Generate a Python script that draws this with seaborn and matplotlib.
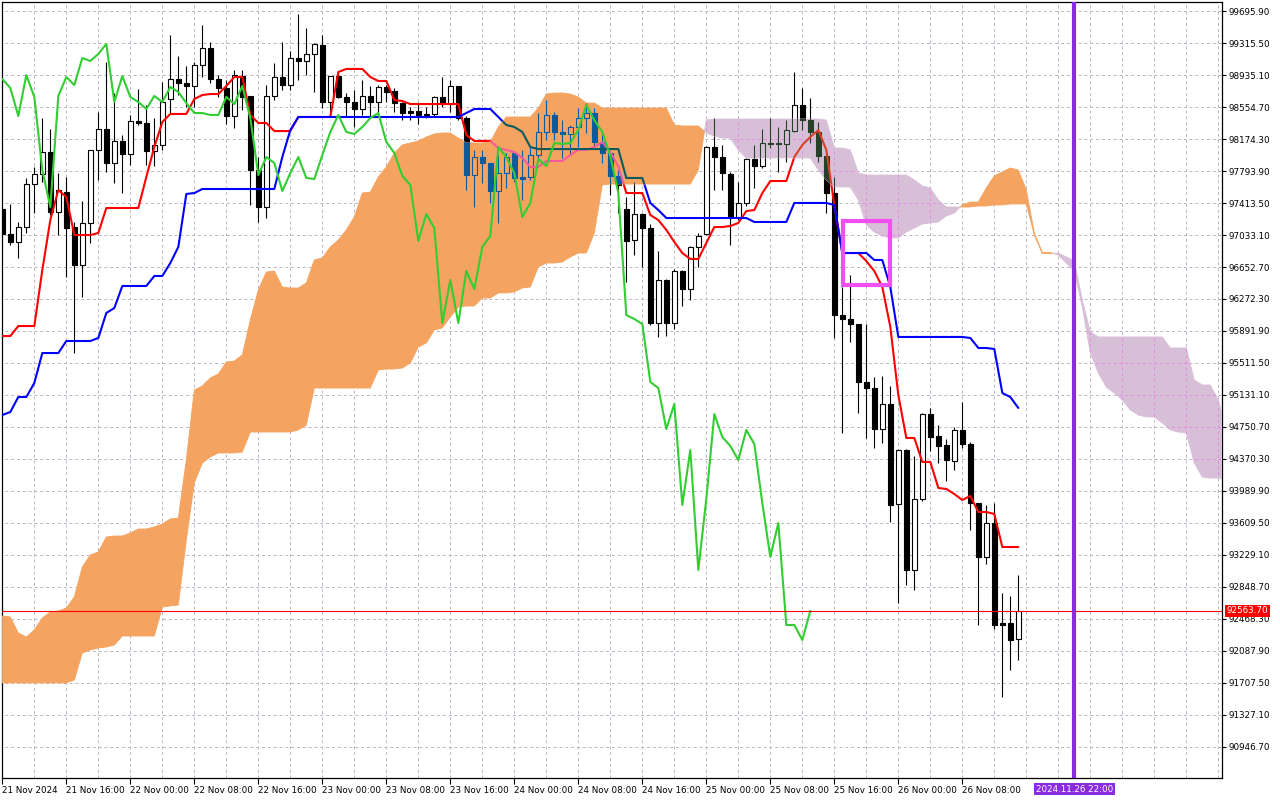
import numpy as np
import seaborn as sns
import matplotlib
matplotlib.use("Agg")
import matplotlib.pyplot as plt
import matplotlib.transforms as mtransforms
from matplotlib.path import Path
from matplotlib.patches import PathPatch, Rectangle

# H1 bars, the first one is 21 Nov 2024 08:00
opens = [97342, 97045, 96950, 97128, 97639, 97758, 98020, 97307, 97544, 97128,
         96676, 97176, 98044, 98293, 97889, 98151, 97996, 98388, 98365, 98032,
         98103, 98650, 98888, 98840, 98804, 99054, 99256, 98888, 98781, 98448,
         98923, 98686, 97806, 97366, 98686, 98911, 98816, 99137, 99102, 99185,
         99292, 98614, 98923, 98674, 98614, 98531, 98686, 98614, 98793, 98745,
         98602, 98507, 98507, 98472, 98472, 98674, 98590, 98804, 98424, 97746,
         97960, 97889, 97556, 97770, 98008, 97723, 97723, 97984, 98258, 98460,
         98258, 98234, 98317, 98424, 98483, 98139, 98008, 97735, 97342, 96974,
         97283, 97116, 95987, 96498, 95987, 96605, 96391, 96891, 97045, 98079,
         97960, 97758, 97247, 97414, 97937, 97853, 98127, 98115, 98115, 98269,
         98578, 98400, 98258, 97972, 97532, 96082, 96035, 95975, 95286, 95214,
         94727, 95024, 93835, 94477, 93051, 93895, 94905, 94644, 94537, 94347,
         94715, 94549, 93847, 93205, 93610, 92421, 92421, 92231]
highs = [97366, 97402, 97188, 97711, 97842, 98424, 98293, 97770, 97723, 97188,
         97437, 98044, 98495, 99090, 98721, 98222, 98460, 98769, 98578, 98424,
         98852, 99411, 99161, 99042, 99090, 99530, 99327, 98935, 98876, 98995,
         98995, 98686, 97960, 98816, 99078, 99327, 99220, 99660, 99494, 99316,
         99411, 98923, 98947, 98721, 98757, 98876, 98804, 98816, 98816, 98781,
         98614, 98555, 98614, 98555, 98686, 98911, 98876, 98804, 98448, 98044,
         98044, 97889, 97984, 98008, 98020, 98044, 98079, 98483, 98638, 98495,
         98400, 98341, 98543, 98602, 98543, 98246, 98020, 97806, 97485, 97663,
         97295, 97164, 96843, 96510, 96629, 96617, 96902, 97057, 98091, 98424,
         98103, 97782, 97663, 97949, 98103, 98293, 98424, 98317, 98400, 98971,
         98781, 98662, 98376, 98044, 97723, 96415, 96558, 95975, 95975, 95345,
         95357, 95238, 94489, 94489, 94406, 94917, 94977, 94775, 94608, 94751,
         95048, 94572, 93847, 93824, 93847, 92777, 92742, 92991]
lows = [97021, 96914, 96760, 97057, 97295, 97663, 97271, 97033, 96534, 95630,
        96296, 96938, 97687, 97782, 97651, 97532, 97865, 98341, 97865, 97853,
        98044, 98483, 98697, 98555, 98555, 98911, 98840, 98674, 98353, 98305,
        98519, 97390, 97188, 97235, 98638, 98757, 98757, 98876, 98935, 98733,
        98543, 98436, 98662, 98436, 98317, 98460, 98424, 98436, 98614, 98495,
        98400, 98400, 98353, 98424, 98436, 98555, 98495, 98400, 97568, 97366,
        97651, 97414, 97176, 97592, 97663, 97449, 97687, 97925, 98162, 98162,
        97949, 97984, 98079, 98246, 98067, 97889, 97509, 97295, 96474, 96795,
        96653, 95963, 95821, 95833, 95916, 96189, 96260, 96653, 97033, 97568,
        97568, 96914, 97211, 97378, 97592, 97830, 98067, 97782, 97901, 98258,
        98281, 98127, 97901, 97295, 95809, 94679, 95761, 94917, 94620, 94501,
        94561, 93621, 92659, 92873, 92813, 93871, 94465, 94323, 94109, 94240,
        94501, 93526, 92397, 93122, 92349, 91541, 91862, 91981]
closes = [97045, 96950, 97128, 97639, 97758, 98020, 97307, 97568, 97116, 96676,
          97176, 98044, 98293, 97889, 98151, 97996, 98388, 98365, 98032, 98103,
          98614, 98888, 98840, 98804, 99054, 99256, 98888, 98781, 98448, 98935,
          98674, 97806, 97366, 98686, 98911, 98816, 99137, 99102, 99185, 99304,
          98614, 98923, 98674, 98614, 98531, 98686, 98614, 98793, 98733, 98602,
          98483, 98483, 98460, 98460, 98674, 98590, 98804, 98424, 97746, 97960,
          97889, 97556, 97770, 97960, 97711, 97699, 97984, 98258, 98460, 98258,
          98234, 98317, 98424, 98483, 98139, 98008, 97735, 97628, 96962, 97283,
          97116, 95987, 96498, 95987, 96605, 96391, 96891, 97021, 98079, 97960,
          97770, 97247, 97414, 97937, 97853, 98127, 98115, 98127, 98281, 98578,
          98400, 98258, 97972, 97532, 96082, 96035, 95975, 95286, 95214, 94727,
          95024, 93824, 94477, 93051, 93895, 94905, 94632, 94525, 94358, 94715,
          94549, 93847, 93205, 93610, 92397, 92397, 92219, 92563.7]

tenkan = [95832, 95832, 95951, 95951, 95951, 96617, 97211, 97568, 97485, 97033,
          97033, 97033, 97057, 97354, 97354, 97354, 97354, 97354, 97723, 98079,
          98376, 98472, 98472, 98472, 98650, 98697, 98709, 98709, 98804, 98911,
          98911, 98460, 98365, 98365, 98269, 98269, 98269, 98436, 98436, 98436,
          98436, 98436, 98971, 99007, 99007, 99007, 98911, 98864, 98864, 98638,
          98626, 98590, 98590, 98590, 98590, 98590, 98590, 98590, 98222, 98151,
          98151, 98151, 98067, 98044, 98020, 97949, 97842, 97842, 97913, 97913,
          97913, 97984, 98044, 98044, 98079, 98139, 98020, 97850, 97532, 97532,
          97532, 97271, 97211, 97093, 96950, 96819, 96748, 96748, 96938, 97128,
          97128, 97140, 97176, 97318, 97330, 97532, 97675, 97675, 97675, 97960,
          98103, 98198, 98281, 98044, 97390, 96819, 96819, 96819, 96724, 96605,
          96415, 95940, 95131, 94620, 94620, 94335, 94335, 94026, 94014, 93954,
          93883, 93931, 93740, 93740, 93717, 93324, 93324, 93324]
kijun = [94893, 94929, 95107, 95107, 95274, 95630, 95630, 95630, 95773, 95773,
         95773, 95773, 95809, 96106, 96165, 96427, 96427, 96427, 96427, 96546,
         96546, 96700, 96891, 97521, 97532, 97580, 97580, 97580, 97580, 97580,
         97580, 97580, 97580, 97580, 97580, 97960, 98281, 98436, 98436, 98436,
         98436, 98436, 98436, 98436, 98436, 98436, 98436, 98436, 98436, 98436,
         98436, 98436, 98436, 98436, 98436, 98436, 98436, 98436, 98483, 98531,
         98531, 98531, 98436, 98341, 98317, 98258, 98079, 98055, 98055, 98055,
         98055, 98055, 98055, 98055, 98055, 98055, 98055, 98055, 97711, 97711,
         97711, 97414, 97330, 97235, 97235, 97235, 97235, 97235, 97235, 97235,
         97235, 97235, 97235, 97235, 97188, 97188, 97188, 97188, 97188, 97414,
         97414, 97414, 97414, 97414, 97390, 96819, 96819, 96819, 96819, 96736,
         96736, 96415, 95821, 95821, 95821, 95821, 95821, 95821, 95821, 95821,
         95821, 95809, 95690, 95690, 95678, 95155, 95107, 94977]

# senkou spans as drawn (already shifted 26 bars forward)
span_a = [92504, 92492, 92302, 92254, 92338, 92480, 92551, 92563, 92599, 92730,
          93087, 93229, 93265, 93443, 93455, 93455, 93491, 93538, 93538, 93562,
          93598, 93657, 93669, 94358, 95191, 95238, 95333, 95381, 95523, 95535,
          95607, 96023, 96379, 96593, 96605, 96415, 96403, 96403, 96463, 96736,
          96760, 96891, 96974, 97093, 97247, 97532, 97544, 97723, 97842, 98008,
          98103, 98127, 98151, 98198, 98234, 98246, 98246, 98186, 98127, 98127,
          98127, 98139, 98317, 98436, 98436, 98436, 98436, 98543, 98709, 98721,
          98721, 98709, 98674, 98602, 98602, 98543, 98543, 98543, 98543, 98543,
          98543, 98543, 98543, 98543, 98341, 98329, 98329, 98329, 98246, 98210,
          98186, 98186, 98044, 97949, 97949, 97949, 97949, 97949, 97949, 97949,
          97949, 97949, 97806, 97687, 97604, 97604, 97604, 97449, 97152, 97069,
          97021, 96998, 96998, 97069, 97116, 97164, 97176, 97188, 97259, 97295,
          97390, 97425, 97425, 97592, 97735, 97782, 97830, 97806, 97568, 97057,
          96825, 96825, 96795, 96700, 96605, 96177, 95630, 95392, 95226, 95155,
          95072, 94953, 94893, 94870, 94870, 94798, 94715, 94691, 94679, 94323,
          94156, 94144, 94144, 94121]
span_b = [91708, 91708, 91708, 91708, 91708, 91708, 91708, 91708, 91708, 91743,
          92064, 92100, 92124, 92135, 92159, 92266, 92266, 92266, 92266, 92266,
          92611, 92623, 92635, 93407, 94085, 94323, 94394, 94442, 94442, 94442,
          94453, 94691, 94691, 94691, 94691, 94691, 94691, 94715, 94775, 95214,
          95214, 95214, 95214, 95214, 95214, 95214, 95214, 95428, 95440, 95440,
          95452, 95512, 95702, 95749, 95904, 95928, 96058, 96177, 96189, 96189,
          96284, 96284, 96344, 96344, 96356, 96403, 96415, 96653, 96700, 96700,
          96712, 96772, 96819, 96819, 97057, 97628, 97639, 97639, 97639, 97639,
          97639, 97639, 97639, 97639, 97639, 97639, 97639, 97806, 98400, 98412,
          98412, 98412, 98412, 98412, 98412, 98412, 98412, 98412, 98412, 98412,
          98412, 98412, 98412, 98400, 98067, 98067, 98044, 97770, 97746, 97746,
          97746, 97746, 97746, 97746, 97687, 97616, 97592, 97449, 97366, 97366,
          97366, 97366, 97378, 97378, 97390, 97390, 97402, 97402, 97402, 97033,
          96813, 96813, 96819, 96772, 96724, 96260, 95880, 95821, 95821, 95821,
          95821, 95821, 95821, 95821, 95821, 95821, 95690, 95690, 95690, 95309,
          95250, 95250, 95072, 94715]

date_labels = ["21 Nov 2024", "21 Nov 16:00", "22 Nov 00:00", "22 Nov 08:00",
               "22 Nov 16:00", "23 Nov 00:00", "23 Nov 08:00", "23 Nov 16:00",
               "24 Nov 00:00", "24 Nov 08:00", "24 Nov 16:00", "25 Nov 00:00",
               "25 Nov 08:00", "25 Nov 16:00", "26 Nov 00:00", "26 Nov 08:00"]
price_ticks = [99695.90, 99315.50, 98935.10, 98554.70, 98174.30, 97793.90,
               97413.50, 97033.10, 96652.70, 96272.30, 95891.90, 95511.50,
               95131.10, 94750.70, 94370.30, 93989.90, 93609.50, 93229.10,
               92848.70, 92468.30, 92087.90, 91707.50, 91327.10, 90946.70]
last_price = 92563.70
marker_bar = 134
marker_label = "2024.11.26 22:00"
box_bars = (105.05, 111.0)
box_prices = (96442, 97199)
chikou_shift = 26

UP_CLOUD = "#f4a460"
DN_CLOUD = "#d8bfd8"

sns.set_style("white")
plt.rcParams["font.family"] = ["DejaVu Sans"]

o = np.array(opens, float)
h = np.array(highs, float)
l = np.array(lows, float)
c = np.array(closes, float)
bars = np.arange(len(c))
cx = np.arange(len(span_a))
sa = np.array(span_a, float)
sb = np.array(span_b, float)

fig = plt.figure(figsize=(12.8, 8), dpi=100, facecolor="white")
ax = fig.add_axes([2 / 1280, 22 / 800, 1220 / 1280, 776 / 800])
ax.set_facecolor("white")
ax.set_xlim(-0.04, 152.46)
ax.set_ylim(90578, 99803)

grid_kw = dict(linestyle=(0, (3, 3)), linewidth=0.7)
vgrid = np.arange(4, 153, 4)


def draw_grid(color, z, clip=None):
    arts = [ax.vlines(vgrid, 90578, 99803, color=color, zorder=z, **grid_kw),
            ax.hlines(price_ticks, -1, 160, color=color, zorder=z, **grid_kw)]
    if clip is not None:
        for a in arts:
            a.set_clip_path(clip)


def draw_candles(ink, bull_face, bear_face, z, clip=None):
    top = np.maximum(o, c)
    bot = np.minimum(o, c)
    up = c >= o
    arts = [ax.vlines(bars, top, h, color=ink, lw=0.8, zorder=z),
            ax.vlines(bars, l, bot, color=ink, lw=0.8, zorder=z)]
    b1 = ax.bar(bars[up], (c - o)[up], bottom=o[up], width=0.62,
                facecolor=bull_face, edgecolor=ink, lw=0.8, zorder=z)
    b2 = ax.bar(bars[~up], (c - o)[~up], bottom=o[~up], width=0.62,
                facecolor=bear_face, edgecolor=ink, lw=0.8, zorder=z)
    arts += list(b1) + list(b2)
    if clip is not None:
        for a in arts:
            a.set_clip_path(clip)


def draw_lines(red, blue, z, clip=None):
    n0 = len(ax.lines)
    sns.lineplot(x=bars, y=tenkan, ax=ax, color=red, lw=1.5, zorder=z)
    sns.lineplot(x=bars, y=kijun, ax=ax, color=blue, lw=1.5, zorder=z)
    if clip is not None:
        for ln in ax.lines[n0:]:
            ln.set_clip_path(clip)


draw_grid("#bfb3c4", 0.5)
draw_candles("black", "white", "black", 2)
draw_lines("#ff0000", "#0000ff", 3)

# kumo
up_fill = ax.fill_between(cx, sa, sb, where=sa >= sb, interpolate=True,
                          facecolor=UP_CLOUD, edgecolor=UP_CLOUD, lw=0.6, zorder=4)
dn_fill = ax.fill_between(cx, sa, sb, where=sb > sa, interpolate=True,
                          facecolor=DN_CLOUD, edgecolor=DN_CLOUD, lw=0.6, zorder=4)
up_clip = PathPatch(Path.make_compound_path(*up_fill.get_paths()),
                    transform=ax.transData, fc="none", ec="none")
dn_clip = PathPatch(Path.make_compound_path(*dn_fill.get_paths()),
                    transform=ax.transData, fc="none", ec="none")

# terminal draws the cloud in xor mode, so what lies under it shows inverted
draw_candles("#0b5b9f", "none", "#0b5b9f", 4.5, up_clip)
draw_lines("#f45b9f", "#0b5b60", 4.6, up_clip)
draw_grid("#e58ae5", 4.4, dn_clip)
draw_candles("#27402a", "none", "#27402a", 4.5, dn_clip)
draw_lines("#d84027", "#2740d8", 4.6, dn_clip)

# chikou span
sns.lineplot(x=bars[chikou_shift:] - chikou_shift, y=c[chikou_shift:], ax=ax,
             color="#32cd32", lw=1.5, zorder=6)

ax.axhline(last_price, color="#ff0000", lw=0.8, zorder=6)
ax.add_patch(Rectangle((box_bars[0], box_prices[0]), box_bars[1] - box_bars[0],
                       box_prices[1] - box_prices[0], fill=False,
                       edgecolor="#f050f0", lw=3.0, zorder=7))
ax.axvline(marker_bar, color="#8a2be2", lw=3.0, zorder=7)

# axes
for sp in ax.spines.values():
    sp.set_visible(True)
    sp.set_color("black")
    sp.set_linewidth(0.9)

ax.yaxis.tick_right()
ax.set_yticks(price_ticks)
ax.set_yticklabels([f"{p:.2f}" for p in price_ticks])
ax.set_xticks(np.arange(0, 8 * len(date_labels), 8))
ax.set_xticklabels(date_labels, ha="left")
ax.tick_params(axis="y", right=True, length=3, width=0.8, pad=2,
               labelsize=6.3, colors="black")
ax.tick_params(axis="x", bottom=True, length=4, width=0.8, pad=1.5,
               labelsize=6.3, colors="black")
ax.set_xlabel("")
ax.set_ylabel("")

blend = mtransforms.blended_transform_factory(ax.transAxes, ax.transData)
ax.annotate(f"{last_price:.2f}", xy=(1, last_price), xycoords=blend,
            xytext=(3.5, 0), textcoords="offset points", ha="left", va="center",
            fontsize=6.3, color="white", annotation_clip=False,
            bbox=dict(boxstyle="square,pad=0.2", fc="#ff0000", ec="none"))
ax.annotate(marker_label, xy=(marker_bar, 90578), xycoords="data",
            xytext=(0, -8), textcoords="offset points", ha="center", va="center",
            fontsize=6.3, color="white", annotation_clip=False,
            bbox=dict(boxstyle="square,pad=0.2", fc="#8a2be2", ec="none"))

fig.savefig("out.png", dpi=100, facecolor="white")
